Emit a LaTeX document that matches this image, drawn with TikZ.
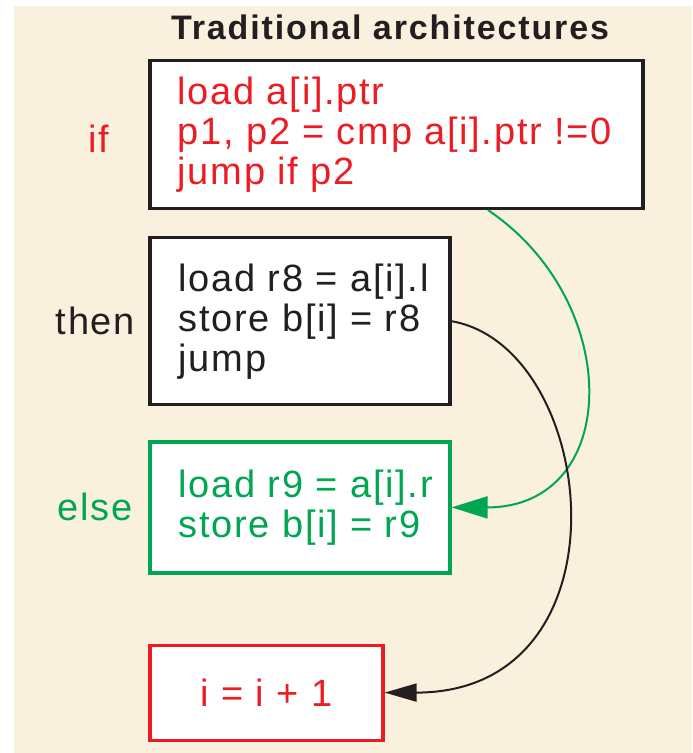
\documentclass[tikz,border=0pt]{standalone}
\usepackage{fontspec}
\setmainfont{Liberation Sans}[LetterSpace=4.5]
\newfontfamily\headfont{Liberation Sans}[LetterSpace=5.5]
\usetikzlibrary{positioning,calc,arrows.meta}

\definecolor{paper}{RGB}{250,240,222}
\definecolor{ifred}{RGB}{237,28,36}
\definecolor{elsegreen}{RGB}{0,166,81}
\definecolor{ink}{RGB}{35,31,32}

\tikzset{
	codebox/.style = {shape=rectangle, draw, fill=white, line width=1.6pt},
	code/.style    = {align=left, inner sep=0pt, font=\fontsize{19pt}{20pt}\selectfont},
	tag/.style     = {inner sep=0pt, font=\fontsize{19pt}{20pt}\selectfont},
	flow/.style    = {line width=1pt}
}

\begin{document}
\begin{tikzpicture}[x=0.5pt, y=0.5pt]
	% page and paper
	\useasboundingbox (0,0) rectangle (692,-753);
	\fill[paper] (14,-6) rectangle (692,-753);

	\node[anchor=base, text=ink, font=\headfont\bfseries\fontsize{17pt}{18pt}\selectfont] (title) at (390,-40) {Traditional architectures};

	% the four blocks
	\node[codebox, draw=ink, minimum width=246.5pt, minimum height=74pt] (ifbox) at (396.5,-134.5) {};
	\node[codebox, draw=ink, minimum width=150pt, minimum height=83.5pt,
		below right=13pt and 0pt of ifbox.south west] (thenbox) {};
	\node[codebox, draw=elsegreen, minimum width=150pt, minimum height=65.5pt,
		below right=17pt and 0pt of thenbox.south west] (elsebox) {};
	\node[codebox, draw=ifred, text=ifred, minimum width=116.5pt, minimum height=47.5pt,
		font=\fontsize{19pt}{20pt}\selectfont,
		below right=34.5pt and 0pt of elsebox.south west] (incbox) {i = i + 1};

	% code inside the blocks
	\node[code, text=ifred, right=14.5pt of ifbox.west] (ifcode) {load a[i].ptr\\ p1, p2 = cmp a[i].ptr !=0\\ jump if p2};
	\node[code, text=ink, right=15pt of thenbox.west] (thencode) {load r8 = a[i].l\\ store b[i] = r8\\ jump};
	\node[code, text=elsegreen, right=15pt of elsebox.west] (elsecode) {load r9 = a[i].r\\ store b[i] = r9};

	% branch labels
	\node[tag, text=ifred] (iftag) at ([xshift=-25pt, yshift=-2pt]ifbox.west) {if};
	\node[tag, text=ink] (thentag) at ([xshift=-26.5pt]thenbox.west) {then};
	\node[tag, text=elsegreen] (elsetag) at ([xshift=-26.5pt]elsebox.west) {else};

	% jumps
	\draw[flow, draw=elsegreen, -{Triangle[length=18pt, width=11pt]}, elsegreen]
		($(ifbox.south)+(91.5,0)$) .. controls +(-34:165) and +(0:170) .. (elsebox.east);
	\draw[flow, draw=ink, -{Triangle[length=16pt, width=9pt]}, ink]
		(thenbox.east) .. controls +(-10:150) and +(0:250) .. (incbox.east);
\end{tikzpicture}
\end{document}
